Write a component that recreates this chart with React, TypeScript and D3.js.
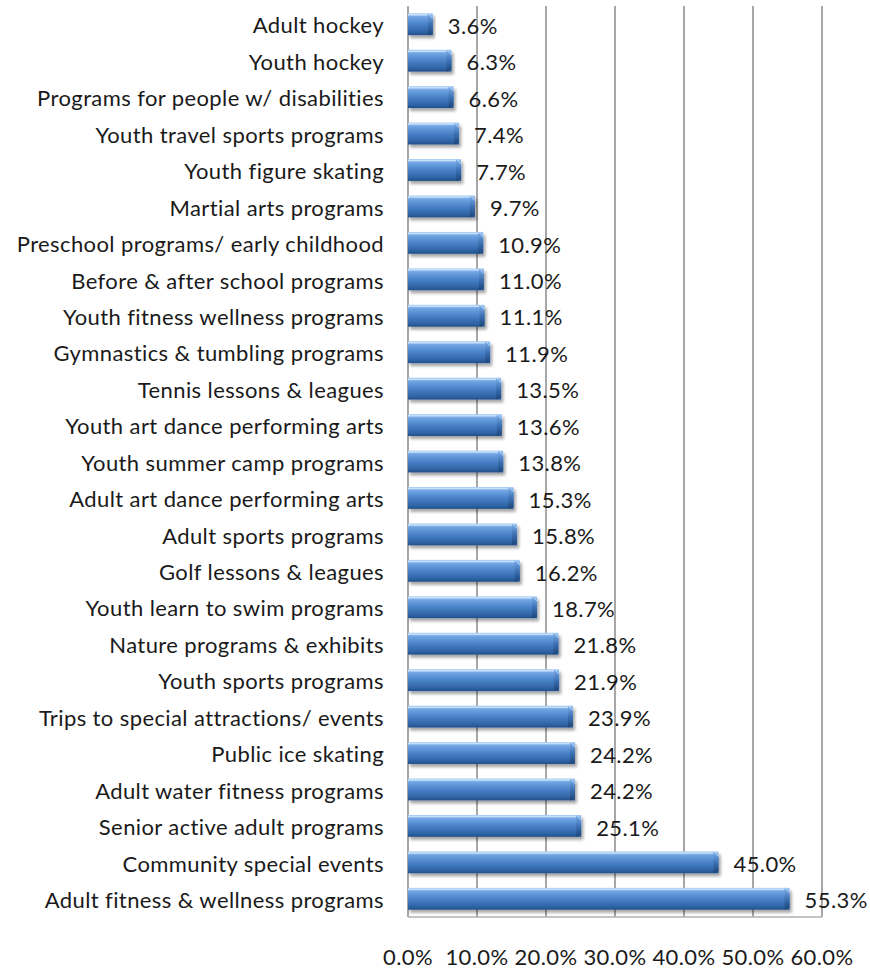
import React from "react";
import * as d3 from "d3";

const categories = [
  "Adult hockey",
  "Youth hockey",
  "Programs for people w/ disabilities",
  "Youth travel sports programs",
  "Youth figure skating",
  "Martial arts programs",
  "Preschool programs/ early childhood",
  "Before & after school programs",
  "Youth fitness wellness programs",
  "Gymnastics & tumbling programs",
  "Tennis lessons & leagues",
  "Youth art dance performing arts",
  "Youth summer camp programs",
  "Adult art dance performing arts",
  "Adult sports programs",
  "Golf lessons & leagues",
  "Youth learn to swim programs",
  "Nature programs & exhibits",
  "Youth sports programs",
  "Trips to special attractions/ events",
  "Public ice skating",
  "Adult water fitness programs",
  "Senior active adult programs",
  "Community special events",
  "Adult fitness & wellness programs",
];
const values = [
  3.6, 6.3, 6.6, 7.4, 7.7, 9.7, 10.9, 11.0, 11.1, 11.9, 13.5, 13.6, 13.8, 15.3,
  15.8, 16.2, 18.7, 21.8, 21.9, 23.9, 24.2, 24.2, 25.1, 45.0, 55.3,
];
const ticks = [0, 10, 20, 30, 40, 50, 60];

const W = 870;
const H = 969;
const left = 408;
const right = 822;
const top = 6;
const bottom = 917;
const FONT = "Lato, 'Open Sans', sans-serif";
const FS = 22;
const LS = 0.4;

export default function App() {
  const x = d3.scaleLinear().domain([0, 60]).range([left, right]);
  const y = d3
    .scaleBand<string>()
    .domain(categories)
    .range([top, bottom])
    .paddingInner(0.4)
    .paddingOuter(0.2);
  const bh = y.bandwidth();
  return (
    <svg
      width={W}
      height={H}
      style={{ position: "absolute", left: 0, top: 0, background: "#fff" }}
    >
      <defs>
        <linearGradient id="barGrad" x1="0" y1="0" x2="0" y2="1">
          <stop offset="0" stopColor="#a9cdf5" />
          <stop offset="0.18" stopColor="#6fa3e2" />
          <stop offset="0.5" stopColor="#4a82c8" />
          <stop offset="0.85" stopColor="#2f64a6" />
          <stop offset="1" stopColor="#22508a" />
        </linearGradient>
        <linearGradient id="endGrad" x1="0" y1="0" x2="0" y2="1">
          <stop offset="0" stopColor="#7fb0ea" />
          <stop offset="0.5" stopColor="#3d72b5" />
          <stop offset="1" stopColor="#1c4477" />
        </linearGradient>
        <filter id="shadow" x="-5%" y="-30%" width="115%" height="180%">
          <feDropShadow dx="2" dy="3" stdDeviation="1.8" floodColor="#000" floodOpacity="0.35" />
        </filter>
      </defs>
      {/* gridlines */}
      {ticks.map((t) => (
        <line
          key={"g" + t}
          x1={x(t)}
          x2={x(t)}
          y1={top}
          y2={bottom}
          stroke="#8a8a8a"
          strokeWidth={1.5}
        />
      ))}
      <line x1={left} x2={right} y1={bottom} y2={bottom} stroke="#b0b0b0" strokeWidth={1.5} />
      {/* bars */}
      {categories.map((c, i) => {
        const y0 = y(c)!;
        const x1 = x(values[i]);
        const bw = x1 - left;
        const e = 5;
        return (
          <g key={c} filter="url(#shadow)">
            <rect x={left} y={y0} width={bw} height={bh} fill="url(#barGrad)" />
            <line x1={left} x2={x1 - e} y1={y0 + 1.5} y2={y0 + 1.5} stroke="#c6e0fb" strokeWidth={1.5} />
            <polygon
              points={`${x1 - e},${y0} ${x1},${y0 + e} ${x1},${y0 + bh - 2} ${x1 - e},${y0 + bh}`}
              fill="url(#endGrad)"
            />
            <line x1={x1 - e} y1={y0} x2={x1} y2={y0 + e} stroke="#b8d6f7" strokeWidth={1} />
          </g>
        );
      })}
      {/* category labels */}
      {categories.map((c) => (
        <text
          key={"l" + c}
          x={left - 24}
          y={y(c)! + bh / 2 + 1.5}
          dy="0.35em"
          textAnchor="end"
          fontFamily={FONT}
          fontSize={FS}
          letterSpacing={LS}
          fill="#1a1a1a"
        >
          {c}
        </text>
      ))}
      {/* value labels */}
      {categories.map((c, i) => (
        <text
          key={"v" + c}
          x={x(values[i]) + 15}
          y={y(c)! + bh / 2 + 2}
          dy="0.35em"
          textAnchor="start"
          fontFamily={FONT}
          fontSize={FS}
          letterSpacing={LS}
          fill="#1a1a1a"
        >
          {values[i].toFixed(1) + "%"}
        </text>
      ))}
      {/* x tick labels */}
      {ticks.map((t) => (
        <text
          key={"t" + t}
          x={x(t)}
          y={957}
          dy="0.35em"
          textAnchor="middle"
          fontFamily={FONT}
          fontSize={FS}
          letterSpacing={LS}
          fill="#1a1a1a"
        >
          {t.toFixed(1) + "%"}
        </text>
      ))}
    </svg>
  );
}
